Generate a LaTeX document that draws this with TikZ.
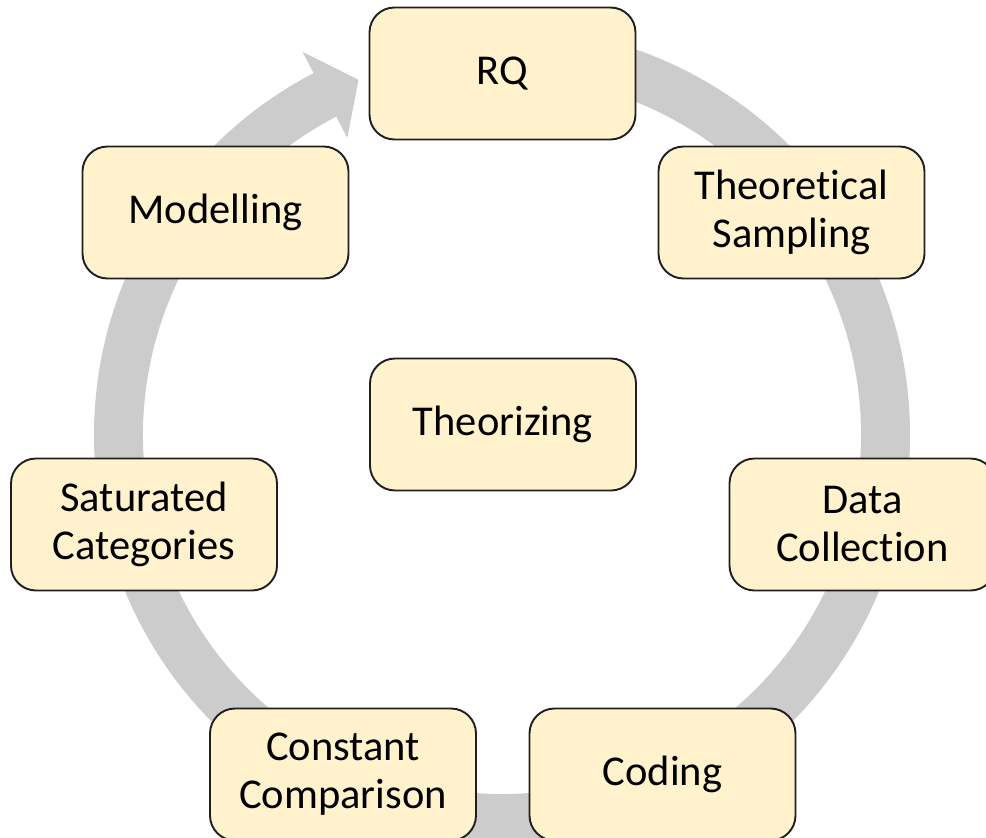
\documentclass[tikz,border=0pt]{standalone}
\usepackage{fontspec}
\setmainfont{Carlito}[Ligatures=NoCommon]
\definecolor{boxfill}{HTML}{FFF2CC}
\definecolor{boxline}{HTML}{1F1F1F}
\definecolor{ringgray}{HTML}{CCCCCC}
\begin{document}
\begin{tikzpicture}[x=1pt,y=1pt,
  stepbox/.style={draw=boxline, line width=1.9pt, fill=boxfill, rounded corners=25pt,
    minimum width=266pt, minimum height=132pt, align=center, inner sep=0pt,
    font=\fontsize{42.5}{48}\selectfont, text=black}]
\useasboundingbox (0,0) rectangle (986,-838);
\clip (0,0) rectangle (986,-838);
% ring arrow
\begin{scope}[shift={(502,-435)}]
\coordinate (ringc) at (0,0);
\fill[ringgray] (90:408) arc[start angle=90, end angle=-242.5, radius=408]
  -- (-242.5:432) -- (-248:383) -- (-242.5:335) -- (-242.5:359)
  arc[start angle=-242.5, end angle=90, radius=359] -- cycle;
\end{scope}
\node[stepbox] (rq)  at (502.5,-73.5) {RQ};
\node[stepbox] (ts)  at (791.5,-212.5) {Theoretical\\Sampling};
\node[stepbox] (mod) at (215.5,-212.5) {Modelling};
\node[stepbox] (th)  at (503,-424.5) {Theorizing};
\node[stepbox] (dc)  at (862.5,-524.5) {Data\\Collection};
\node[stepbox] (sc)  at (144,-524.5) {Saturated\\Categories};
\node[stepbox] (cc)  at (343,-774.5) {Constant\\Comparison};
\node[stepbox] (cod) at (662.5,-774.5) {Coding};
\end{tikzpicture}
\end{document}
